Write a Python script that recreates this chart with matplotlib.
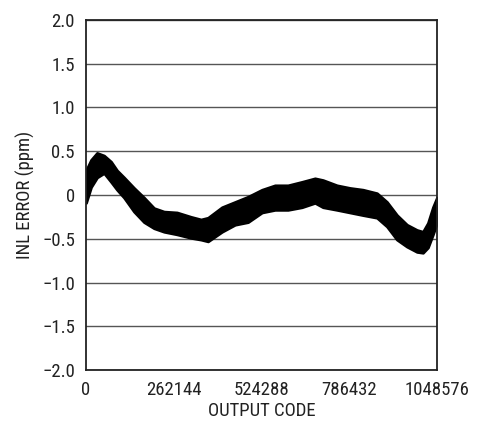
import numpy as np
import matplotlib
matplotlib.use("Agg")
import matplotlib.pyplot as plt
from matplotlib import font_manager

# pick a narrow face if one is there
names = set(f.name for f in font_manager.fontManager.ttflist)
family = 'DejaVu Sans'
for cand in ['Liberation Sans Narrow', 'Roboto Condensed', 'Open Sans Condensed', 'Noto Sans Condensed']:
    if cand in names:
        family = cand
        break
plt.rcParams['font.family'] = [family, 'DejaVu Sans']
if family == 'DejaVu Sans':
    plt.rcParams['font.stretch'] = 'condensed'

# envelope of the noisy INL band
codes = [0, 14937, 32861, 53773, 74685, 92609, 113521, 143395, 173269,
         203143, 233017, 271853, 313677, 343551, 364463, 406286, 445123,
         483959, 525782, 564619, 603455, 645278, 684115, 708014, 749837,
         788674, 827510, 869333, 899207, 929081, 958955, 988829, 1006754,
         1021691, 1036628, 1048576]
inl_upper = [0.28, 0.40, 0.48, 0.45, 0.38, 0.28, 0.20, 0.08, -0.03,
             -0.15, -0.19, -0.20, -0.25, -0.28, -0.26, -0.14, -0.08,
             -0.02, 0.06, 0.11, 0.11, 0.15, 0.19, 0.17, 0.11,
             0.08, 0.06, 0.02, -0.08, -0.23, -0.34, -0.40, -0.42,
             -0.32, -0.14, -0.03]
inl_lower = [-0.09, 0.09, 0.20, 0.25, 0.15, 0.06, -0.03, -0.19, -0.31,
             -0.38, -0.42, -0.45, -0.49, -0.51, -0.53, -0.42, -0.34,
             -0.31, -0.20, -0.17, -0.17, -0.14, -0.09, -0.14, -0.17,
             -0.20, -0.23, -0.26, -0.36, -0.51, -0.59, -0.65, -0.66,
             -0.60, -0.45, -0.32]

x_ticks = [0, 262144, 524288, 786432, 1048576]
x_labels = ['0', '262144', '524288', '786432', '1048576']
y_ticks = [-2.0, -1.5, -1.0, -0.5, 0, 0.5, 1.0, 1.5, 2.0]
y_labels = ['\u22122.0', '\u22121.5', '\u22121.0', '\u22120.5', '0', '0.5', '1.0', '1.5', '2.0']

fig = plt.figure(figsize=(4.86, 4.22), dpi=100)
ax = fig.add_axes([0.177, 0.123, 0.722, 0.830])

ax.fill_between(codes, inl_lower, inl_upper, color='black', linewidth=2.0, edgecolor='black')

ax.set_xlim(0, 1048576)
ax.set_ylim(-2.0, 2.0)
ax.set_xticks(x_ticks)
ax.set_xticklabels(x_labels)
ax.set_yticks(y_ticks)
ax.set_yticklabels(y_labels)
ax.tick_params(length=0, labelsize=13.5, colors='#222222')
ax.tick_params(axis='x', pad=8)
ax.tick_params(axis='y', pad=8)
ax.yaxis.grid(True, color='#555555', linewidth=1.0)
ax.set_axisbelow(True)
for s in ax.spines.values():
    s.set_linewidth(1.3)
    s.set_color('#222222')

ax.set_xlabel('OUTPUT CODE', fontsize=13.5, color='#222222', labelpad=2)
ax.set_ylabel('INL ERROR (ppm)', fontsize=13.5, color='#222222', labelpad=5)

fig.savefig('out.png', dpi=100)
